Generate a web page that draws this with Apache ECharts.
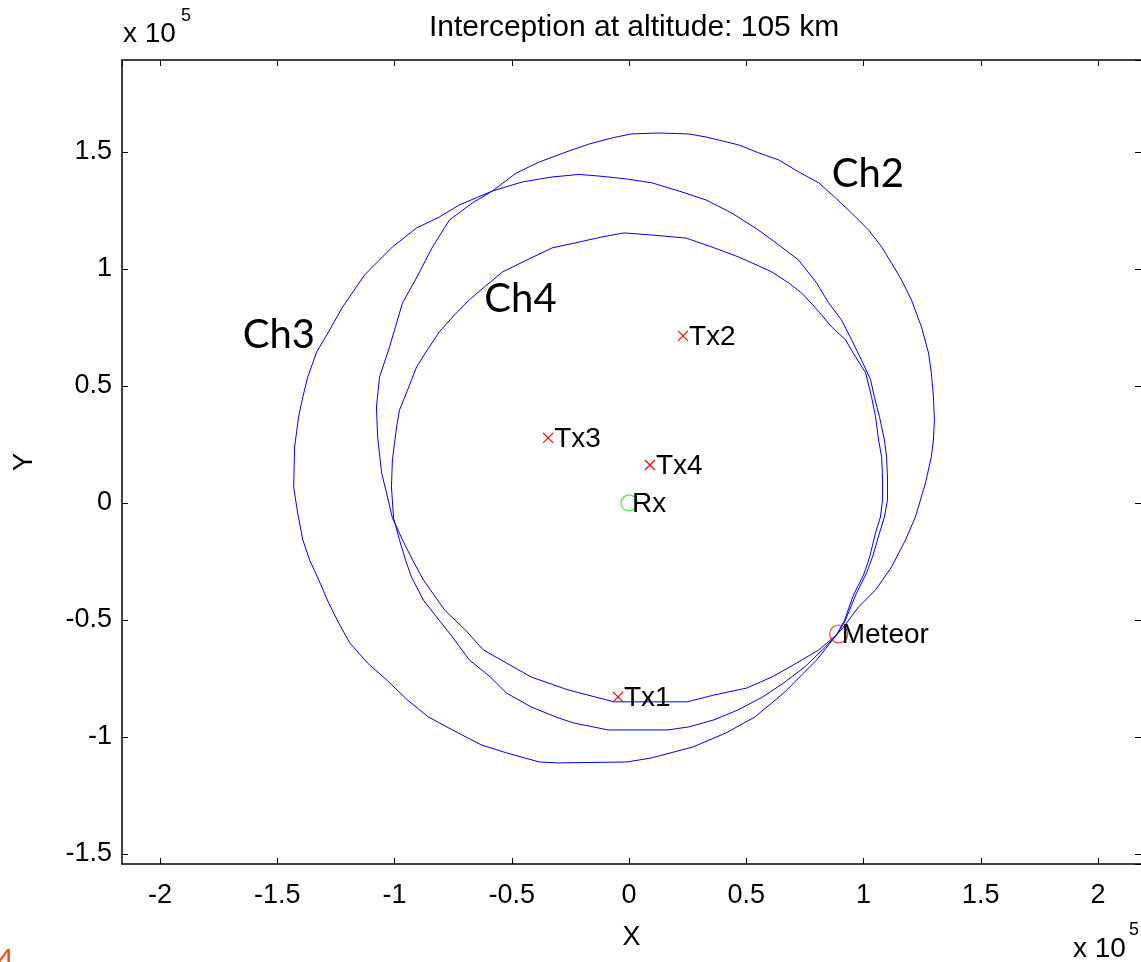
<!DOCTYPE html>
<html>
<head>
<meta charset="utf-8">
<title>Interception at altitude: 105 km</title>
<script src="https://cdn.jsdelivr.net/npm/echarts@6/dist/echarts.min.js"></script>
<style>
  html, body { margin: 0; padding: 0; background: #fff; }
  #main { width: 1141px; height: 962px; }
</style>
</head>
<body>
<div id="main"></div>
<script>
// all positions in units of 1e5 m, as on the axes
var ch2 = [
  [0.009, 1.577], [0.128, 1.581], [0.255, 1.577], [0.328, 1.564], [0.468, 1.530], [0.553, 1.496],
  [0.638, 1.466], [0.723, 1.415], [0.809, 1.368], [0.881, 1.303], [0.949, 1.239], [1.021, 1.167],
  [1.077, 1.094], [1.119, 1.026], [1.162, 0.953], [1.204, 0.868], [1.247, 0.752], [1.277, 0.641],
  [1.289, 0.556], [1.298, 0.453], [1.302, 0.355], [1.298, 0.269], [1.289, 0.197], [1.264, 0.085],
  [1.221, -0.060], [1.179, -0.158], [1.119, -0.274], [1.051, -0.372], [0.979, -0.444], [0.915, -0.530],
  [0.885, -0.564], [0.809, -0.628], [0.715, -0.684], [0.609, -0.744], [0.502, -0.791], [0.362, -0.821],
  [0.247, -0.850], [0.085, -0.850], [-0.064, -0.850], [-0.260, -0.799], [-0.417, -0.744], [-0.523, -0.684],
  [-0.621, -0.628], [-0.698, -0.543], [-0.787, -0.457], [-0.877, -0.329], [-0.923, -0.244], [-0.966, -0.158],
  [-1.009, -0.064], [-1.034, 0.043], [-1.055, 0.128], [-1.072, 0.282], [-1.077, 0.410], [-1.064, 0.538],
  [-1.021, 0.667], [-0.966, 0.855], [-0.911, 0.953], [-0.838, 1.094], [-0.766, 1.209], [-0.668, 1.282],
  [-0.583, 1.333], [-0.481, 1.410], [-0.383, 1.457], [-0.268, 1.500], [-0.170, 1.534], [-0.072, 1.560],
  [0.009, 1.577]
];
var ch3 = [
  [-0.128, 1.397], [-0.013, 1.385], [0.098, 1.368], [0.213, 1.333], [0.328, 1.295], [0.438, 1.239],
  [0.545, 1.171], [0.638, 1.103], [0.723, 1.038], [0.800, 0.940], [0.851, 0.855], [0.906, 0.782],
  [0.949, 0.697], [0.991, 0.611], [1.030, 0.526], [1.047, 0.449], [1.068, 0.368], [1.089, 0.269],
  [1.098, 0.197], [1.102, 0.111], [1.102, 0.013], [1.089, -0.060], [1.068, -0.128], [1.038, -0.231],
  [1.013, -0.299], [0.970, -0.385], [0.919, -0.509], [0.885, -0.564], [0.800, -0.671], [0.660, -0.812],
  [0.536, -0.915], [0.413, -0.983], [0.272, -1.043], [0.094, -1.090], [-0.009, -1.107], [-0.302, -1.111],
  [-0.383, -1.107], [-0.523, -1.068], [-0.630, -1.034], [-0.753, -0.970], [-0.855, -0.915], [-0.945, -0.842],
  [-1.034, -0.756], [-1.115, -0.684], [-1.191, -0.598], [-1.238, -0.513], [-1.281, -0.427], [-1.323, -0.329],
  [-1.362, -0.244], [-1.391, -0.158], [-1.413, -0.043], [-1.430, 0.068], [-1.426, 0.239], [-1.409, 0.368],
  [-1.391, 0.453], [-1.370, 0.538], [-1.332, 0.645], [-1.277, 0.739], [-1.221, 0.838], [-1.128, 0.974],
  [-1.009, 1.094], [-0.906, 1.175], [-0.809, 1.222], [-0.723, 1.274], [-0.583, 1.333], [-0.455, 1.372],
  [-0.328, 1.393], [-0.213, 1.404], [-0.128, 1.397]
];
var ch4 = [
  [-0.021, 1.154], [0.098, 1.145], [0.243, 1.132], [0.353, 1.094], [0.468, 1.051], [0.553, 1.013],
  [0.609, 0.987], [0.681, 0.940], [0.736, 0.897], [0.796, 0.833], [0.864, 0.752], [0.923, 0.697],
  [0.966, 0.624], [1.009, 0.556], [1.034, 0.453], [1.051, 0.368], [1.064, 0.269], [1.077, 0.197],
  [1.081, 0.111], [1.081, 0.013], [1.072, -0.060], [1.051, -0.128], [1.026, -0.231], [1.000, -0.308],
  [0.957, -0.393], [0.919, -0.500], [0.885, -0.564], [0.838, -0.615], [0.749, -0.701], [0.660, -0.769],
  [0.570, -0.829], [0.464, -0.885], [0.362, -0.927], [0.255, -0.957], [0.166, -0.970], [-0.089, -0.970],
  [-0.238, -0.940], [-0.311, -0.915], [-0.417, -0.872], [-0.523, -0.812], [-0.591, -0.744], [-0.681, -0.671],
  [-0.753, -0.573], [-0.821, -0.487], [-0.877, -0.415], [-0.928, -0.316], [-0.953, -0.244], [-0.979, -0.158],
  [-1.004, -0.064], [-1.013, 0.068], [-1.009, 0.184], [-0.991, 0.325], [-0.979, 0.397], [-0.949, 0.470],
  [-0.906, 0.581], [-0.860, 0.654], [-0.809, 0.731], [-0.745, 0.803], [-0.681, 0.868], [-0.617, 0.923],
  [-0.540, 0.987], [-0.426, 1.043], [-0.328, 1.090], [-0.213, 1.115], [-0.115, 1.137], [-0.021, 1.154]
];

var txNames = ['Tx1', 'Tx2', 'Tx3', 'Tx4'];
var txX = [-0.047, 0.230, -0.345, 0.089];
var txY = [-0.829, 0.714, 0.278, 0.162];
var rxPos = [0, 0];
var meteorPos = [0.894, -0.560];

var chNames = ['Ch2', 'Ch3', 'Ch4'];
var chX = [0.864, -1.647, -0.617];
var chY = [1.410, 0.722, 0.876];

var xRange = [-2.162, 2.183];
var yRange = [-1.543, 1.893];

var FONT = 'Liberation Sans, Arial, sans-serif';
var chart = echarts.init(document.getElementById('main'), null, { renderer: 'canvas' });

function axisCommon(pos, showLabels) {
  return {
    type: 'value',
    position: pos,
    splitNumber: 8,
    minInterval: 0.5,
    maxInterval: 0.5,
    axisLine: { show: true, onZero: false, lineStyle: { color: '#000', width: 1.5 } },
    axisTick: { show: true, inside: true, length: 6, lineStyle: { color: '#000', width: 1 } },
    axisLabel: {
      show: showLabels,
      showMinLabel: false,
      showMaxLabel: false,
      color: '#000',
      fontSize: 27,
      fontFamily: FONT
    },
    splitLine: { show: false }
  };
}

var xBottom = axisCommon('bottom', true);
xBottom.min = xRange[0]; xBottom.max = xRange[1];
xBottom.axisLabel.margin = 18;
xBottom.name = 'X';
xBottom.nameLocation = 'middle';
xBottom.nameGap = 60;
xBottom.nameTextStyle = { color: '#000', fontSize: 27, fontFamily: FONT };
var xTop = axisCommon('top', false);
xTop.min = xRange[0]; xTop.max = xRange[1];

var yLeft = axisCommon('left', true);
yLeft.min = yRange[0]; yLeft.max = yRange[1];
yLeft.axisLabel.margin = 10;
yLeft.name = 'Y';
yLeft.nameLocation = 'middle';
yLeft.nameRotate = 90;
yLeft.nameGap = 84;
yLeft.nameTextStyle = { color: '#000', fontSize: 27, fontFamily: FONT };
// right border falls just outside the picture: only its ticks show
var yRight = axisCommon('right', false);
yRight.min = yRange[0]; yRight.max = yRange[1];
yRight.axisLine.show = false;

function curve(name, pts) {
  return {
    name: name,
    type: 'line',
    data: pts,
    showSymbol: false,
    symbol: 'none',
    smooth: false,
    lineStyle: { color: '#0000ff', width: 1 },
    silent: true,
    z: 2
  };
}

function pointLabel(dx, size, family) {
  return {
    show: true, position: 'inside', align: 'left', verticalAlign: 'middle',
    offset: [dx, 1], formatter: '{b}', color: '#000', opacity: 1,
    textBorderWidth: 0, textBorderColor: 'transparent', textShadowBlur: 0,
    fontSize: size, fontFamily: family || FONT
  };
}

var txData = txNames.map(function (n, i) { return { name: n, value: [txX[i], txY[i]] }; });
var chData = chNames.map(function (n, i) { return { name: n, value: [chX[i], chY[i]] }; });

var option = {
  animation: false,
  backgroundColor: '#fff',
  textStyle: { fontFamily: FONT },
  title: {
    text: 'Interception at altitude: 105 km',
    left: 629,
    textAlign: 'center',
    top: 8,
    textStyle: { color: '#000', fontSize: 30, fontWeight: 'normal', fontFamily: FONT }
  },
  grid: { left: 122, top: 60, right: -2, bottom: 98, containLabel: false },
  xAxis: [xBottom, xTop],
  yAxis: [yLeft, yRight],
  graphic: [
    { type: 'text', left: 123, top: 20, style: { text: 'x 10', fill: '#000', fontSize: 28, fontFamily: FONT } },
    { type: 'text', left: 181, top: 7, style: { text: '5', fill: '#000', fontSize: 18, fontFamily: FONT } },
    { type: 'text', left: 1073, top: 935, style: { text: 'x 10', fill: '#000', fontSize: 28, fontFamily: FONT } },
    { type: 'text', left: 1129, top: 921, style: { text: '5', fill: '#000', fontSize: 18, fontFamily: FONT } },
    { type: 'text', left: -3, top: 946, style: { text: '4', fill: '#ff4a12', fontSize: 30, fontFamily: FONT } }
  ],
  series: [
    curve('Ch2', ch2),
    curve('Ch3', ch3),
    curve('Ch4', ch4),
    {
      name: 'Tx',
      type: 'scatter',
      data: txData,
      symbol: 'path://M0,0L10,10M10,0L0,10',
      symbolSize: 10,
      itemStyle: { color: 'transparent', borderColor: '#ff0000', borderWidth: 1.2, opacity: 1 },
      label: pointLabel(6, 28),
      z: 3
    },
    {
      name: 'Rx',
      type: 'scatter',
      data: [{ name: 'Rx', value: rxPos }],
      symbol: 'circle',
      symbolSize: 16,
      itemStyle: { color: 'transparent', borderColor: '#00ee00', borderWidth: 1.2 },
      label: pointLabel(3, 28),
      z: 3
    },
    {
      name: 'Meteor',
      type: 'scatter',
      data: [{ name: 'Meteor', value: meteorPos }],
      symbol: 'circle',
      symbolSize: 18,
      itemStyle: { color: 'transparent', borderColor: '#ff0000', borderWidth: 1.2 },
      label: pointLabel(3, 28),
      z: 3
    },
    {
      name: 'channels',
      type: 'scatter',
      data: chData,
      symbol: 'circle',
      symbolSize: 1,
      itemStyle: { color: 'transparent' },
      label: pointLabel(0, 40, 'Lato, Open Sans, sans-serif'),
      silent: true,
      z: 3
    }
  ]
};

chart.setOption(option);
</script>
</body>
</html>
